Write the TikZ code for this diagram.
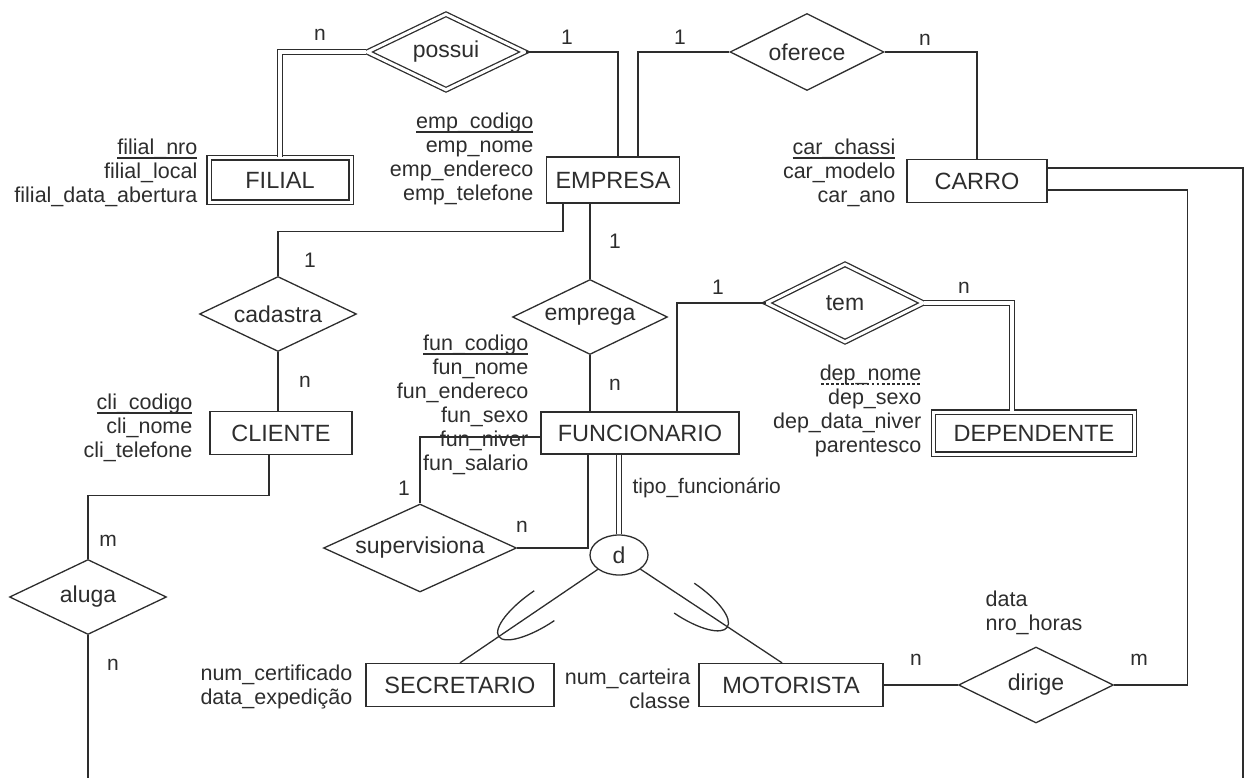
\documentclass[tikz,border=0pt]{standalone}
\usepackage{fontspec}
\setmainfont{Liberation Sans}
\usetikzlibrary{shapes.geometric,calc}
\definecolor{ink}{RGB}{45,45,45}
\newcommand\sul[1]{\setbox0\hbox{#1}\rlap{\copy0}\raisebox{-4pt}{\vrule height 1.2pt width \wd0}}
\newcommand\dashul[1]{\setbox0\hbox{#1}\rlap{\copy0}\raisebox{-4pt}{\hbox to \wd0{\xleaders\hbox to 5pt{\hss\vrule height 1.2pt width 2.6pt\hss}\hfill}}}
\tikzset{
  ent/.style={draw,rectangle,inner sep=0pt,font=\fontsize{23.5}{26}\selectfont},
  went/.style={ent,double,double distance=3pt},
  rel/.style={draw,diamond,aspect=2,inner sep=0pt,font=\fontsize{23}{26}\selectfont},
  wrel/.style={rel,double,double distance=3pt},
  atr/.style={inner sep=0pt,align=right,anchor=east,font=\fontsize{21.5}{24}\selectfont},
  card/.style={inner sep=0pt,font=\fontsize{21}{24}\selectfont},
  dbl/.style={double,double distance=4pt},
}

\begin{document}
\begin{tikzpicture}[x=1pt,y=-1pt,line width=1.3pt,color=ink]
\useasboundingbox (0,0) rectangle (1246,778);
% entidades e relacionamentos
\node[wrel,minimum width=158pt,minimum height=76pt] (possui) at (446,52) {possui};
\node[rel,minimum width=154pt,minimum height=77pt] (oferece) at (807,52) {oferece};
\node[went,minimum width=142pt,minimum height=44pt] (filial) at (280,180) {FILIAL};
\node[ent,minimum width=133pt,minimum height=46pt] (empresa) at (613,180) {EMPRESA};
\node[ent,minimum width=140pt,minimum height=43pt] (carro) at (977,181) {CARRO};
\node[rel,minimum width=157pt,minimum height=75pt] (cadastra) at (278,314) {cadastra};
\node[rel,minimum width=155pt,minimum height=75pt] (emprega) at (590,317) {emprega};
\node[wrel,minimum width=157pt,minimum height=78pt] (tem) at (845,303) {tem};
\node[ent,minimum width=142pt,minimum height=43pt] (cliente) at (281,433) {CLIENTE};
\node[ent,minimum width=198pt,minimum height=42pt] (funcionario) at (640,433) {FUNCIONARIO};
\node[went,minimum width=201pt,minimum height=42pt] (dependente) at (1034,433) {DEPENDENTE};
\node[rel,minimum width=193pt,minimum height=88pt] (supervisiona) at (420,548) {supervisiona};
\node[draw,ellipse,inner sep=0pt,minimum width=58pt,minimum height=40pt,
  font=\fontsize{23}{26}\selectfont] (d) at (619,555) {d};
\node[rel,minimum width=157pt,minimum height=75pt] (aluga) at (88,597) {aluga};
\node[ent,minimum width=188pt,minimum height=43pt] (secretario) at (460,685) {SECRETARIO};
\node[ent,minimum width=184pt,minimum height=43pt] (motorista) at (791,685) {MOTORISTA};
\node[rel,minimum width=155pt,minimum height=76pt] (dirige) at (1036,685) {dirige};
% atributos
\node[atr] (filialatr) at (198,173) {\sul{filial\_nro}\\filial\_local\\filial\_data\_abertura};
\node[atr] (empatr) at (534,159) {\sul{emp\_codigo}\\emp\_nome\\emp\_endereco\\emp\_telefone};
\node[atr] (carroatr) at (896,173) {\sul{car\_chassi}\\car\_modelo\\car\_ano};
\node[atr] (cliatr) at (193,428) {\sul{cli\_codigo}\\cli\_nome\\cli\_telefone};
\node[atr] (funatr) at (529,405) {\sul{fun\_codigo}\\fun\_nome\\fun\_endereco\\fun\_sexo\\fun\_niver\\fun\_salario};
\node[atr] (depatr) at (922,411) {\dashul{dep\_nome}\\dep\_sexo\\dep\_data\_niver\\parentesco};
\node[atr] (secatr) at (353,687) {num\_certificado\\data\_expedição};
\node[atr] (motatr) at (691,689) {num\_carteira\\classe};
\node[atr,align=left,anchor=west] (dirigeatr) at (985,613) {data\\nro\_horas};
\node[card,anchor=west] (tipo) at (632,488) {tipo\_funcionário};
% cardinalidades
\foreach \x/\y/\t [count=\i] in {320/35/n,567/37/1,680/37/1,925/40/n,310/260/1,305/382/n,
  615/241/1,615/385/n,718/287/1,964/288/n,404/488/1,522/527/n,108/541/m,113/665/n,
  916/660/n,1139/660/m}
  \node[card] (card\i) at (\x,\y) {\t};
% ligacoes
\coordinate (alugaout) at (88,778);
\coordinate (carroout) at (1243,778);
\coordinate (motsup) at ([xshift=-9pt]motorista.north);
\draw[dbl] (possui.west) -| (filial.north);
\draw (possui.east) -| ([xshift=5pt]empresa.north);
\draw (oferece.west) -| ([xshift=25pt]empresa.north);
\draw (oferece.east) -| (carro.north);
\draw ([xshift=-50pt]empresa.south) -- ++(0,28) -| (cadastra.north);
\draw (emprega.north |- empresa.south) -- (emprega.north);
\draw (cadastra.south) -- (cadastra.south |- cliente.north);
\draw ([xshift=-12pt]cliente.south) -- ++(0,40) -| (aluga.north);
\draw (aluga.south) -- (alugaout);
\draw (emprega.south) -- (emprega.south |- funcionario.north);
\draw ([xshift=37pt]funcionario.north) |- (tem.west);
\draw[dbl] (tem.east) -| ([xshift=-22pt]dependente.north);
\draw ([yshift=-4pt]funcionario.west) -| (supervisiona.north);
\draw (supervisiona.east) -| ([xshift=-52pt]funcionario.south);
\draw[dbl] (d.north |- funcionario.south) -- (d.north);
\draw (d) -- (secretario.north);
\draw (d) -- (motsup);
\draw (motorista.east) -- (dirige.west);
\draw ([yshift=-9pt]carro.east) -- ++(140,0) |- (dirige.east);
\draw ([yshift=13pt]carro.east) -| (carroout);
% subconjunto
\coordinate (subs) at ($(d)!0.47!(secretario.north)$);
\coordinate (subm) at ($(d)!0.4!(motsup)$);
\begin{scope}[shift={(subs)},rotate=214]
  \draw (0,18) .. controls (30,18) and (55,10) .. (55,0) .. controls (55,-10) and (30,-18) .. (0,-18);
\end{scope}
\begin{scope}[shift={(subm)},rotate=-34]
  \draw (0,18) .. controls (29,18) and (52,10) .. (52,0) .. controls (52,-10) and (29,-18) .. (0,-18);
\end{scope}
\end{tikzpicture}
\end{document}
